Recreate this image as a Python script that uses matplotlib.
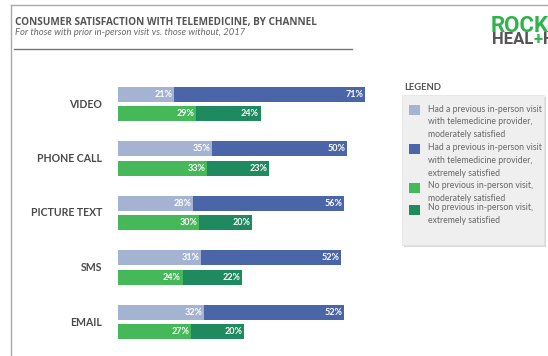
import matplotlib.pyplot as plt
from matplotlib.patches import Rectangle
import numpy as np

channels = ["VIDEO", "PHONE CALL", "PICTURE TEXT", "SMS", "EMAIL"]
prior_moderate = [21, 35, 28, 31, 32]
prior_extreme = [71, 50, 56, 52, 52]
none_moderate = [29, 33, 30, 24, 27]
none_extreme = [24, 23, 20, 22, 20]

legend_labels = [
    "Had a previous in-person visit\nwith telemedicine provider,\nmoderately satisfied",
    "Had a previous in-person visit\nwith telemedicine provider,\nextremely satisfied",
    "No previous in-person visit,\nmoderately satisfied",
    "No previous in-person visit,\nextremely satisfied",
]

C_LIGHT = "#a4b3d2"
C_BLUE = "#4a66a8"
C_GREEN = "#45b85a"
C_DGREEN = "#1f8a5f"
TXT = "#4a4a4a"

W, H = 548, 356
plt.rcParams['font.family'] = ['Lato', 'DejaVu Sans']
fig = plt.figure(figsize=(W / 100, H / 100), dpi=100)


def fx(px):
    return px / W


def fy(py):
    return 1 - py / H


# frame lines of the slide
fig.add_artist(plt.Line2D([fx(11), fx(11)], [fy(5), 0], color="#aaaaaa", lw=1))
fig.add_artist(plt.Line2D([fx(11), 1], [fy(5), fy(5)], color="#aaaaaa", lw=1))

fig.text(fx(15), fy(25.5), "CONSUMER SATISFACTION WITH TELEMEDICINE, BY CHANNEL",
         fontsize=7.2, fontweight="bold", color="#555555", va="baseline",
         family="Open Sans")
fig.text(fx(15), fy(35), "For those with prior in-person visit vs. those without, 2017",
         fontsize=6.8, style="italic", color="#6a6a6a", va="baseline")
fig.add_artist(plt.Line2D([fx(14), fx(352)], [fy(48.5), fy(48.5)], color="#777777", lw=1))

# logo
fig.text(fx(491), fy(32), "ROCK", fontsize=16, fontweight="bold", color="#2fb34b",
         va="baseline", family="Roboto")
renderer = fig.canvas.get_renderer()
x0 = fx(492)
for part, col in [("HEAL", "#555555"), ("+", "#2fb34b"), ("H", "#555555")]:
    t = fig.text(x0, fy(44), part, fontsize=12, fontweight="bold", color=col,
                 va="baseline", family="Roboto")
    bb = t.get_window_extent(renderer)
    x0 = (bb.x1 + 0.5) / W

# bars
ax = fig.add_axes([fx(118), fy(349.25), 269 / W, 272.5 / H])
ax.set_xlim(0, 100)
ax.set_ylim(4.5, -0.5)
ax.axis("off")

y = np.arange(len(channels))
off = 0.183
h = 0.275
ax.barh(y - off, prior_moderate, height=h, color=C_LIGHT)
ax.barh(y - off, prior_extreme, left=prior_moderate, height=h, color=C_BLUE)
ax.barh(y + off, none_moderate, height=h, color=C_GREEN)
ax.barh(y + off, none_extreme, left=none_moderate, height=h, color=C_DGREEN)

for i in range(len(channels)):
    for yy, a, b in [(y[i] - off, prior_moderate[i], prior_extreme[i]),
                     (y[i] + off, none_moderate[i], none_extreme[i])]:
        ax.text(a - 0.6, yy, f"{a}%", color="white", fontsize=6.5, fontweight="bold",
                ha="right", va="center")
        ax.text(a + b - 0.6, yy, f"{b}%", color="white", fontsize=6.5, fontweight="bold",
                ha="right", va="center")
    ax.text(-5.9, y[i], channels[i], color=TXT, fontsize=7.6, fontweight="bold",
            ha="right", va="center")

# legend
fig.text(fx(404), fy(88), "LEGEND", fontsize=6.8, fontweight="bold", color="#555555",
         va="center")
fig.add_artist(Rectangle((fx(404), fy(247)), fx(142), (247 - 97) / H,
                         transform=fig.transFigure, facecolor="#d8d8d8", edgecolor="none"))
fig.add_artist(Rectangle((fx(402), fy(245)), fx(142), (245 - 95) / H,
                         transform=fig.transFigure, facecolor="#efefef",
                         edgecolor="#e2e2e2", lw=0.5))
colors = [C_LIGHT, C_BLUE, C_GREEN, C_DGREEN]
sq_top = [105, 144, 183, 205]
line_mid = [109, 147.5, 186, 207.5]
for c, st, lm, lab in zip(colors, sq_top, line_mid, legend_labels):
    fig.add_artist(Rectangle((fx(409), fy(st + 10)), fx(11), 10 / H,
                             transform=fig.transFigure, facecolor=c, edgecolor="none"))
    fig.text(fx(428), fy(lm - 4.5), lab, fontsize=6.2, color="#666666", va="top",
             linespacing=1.55)

fig.savefig("out.png", dpi=100)
